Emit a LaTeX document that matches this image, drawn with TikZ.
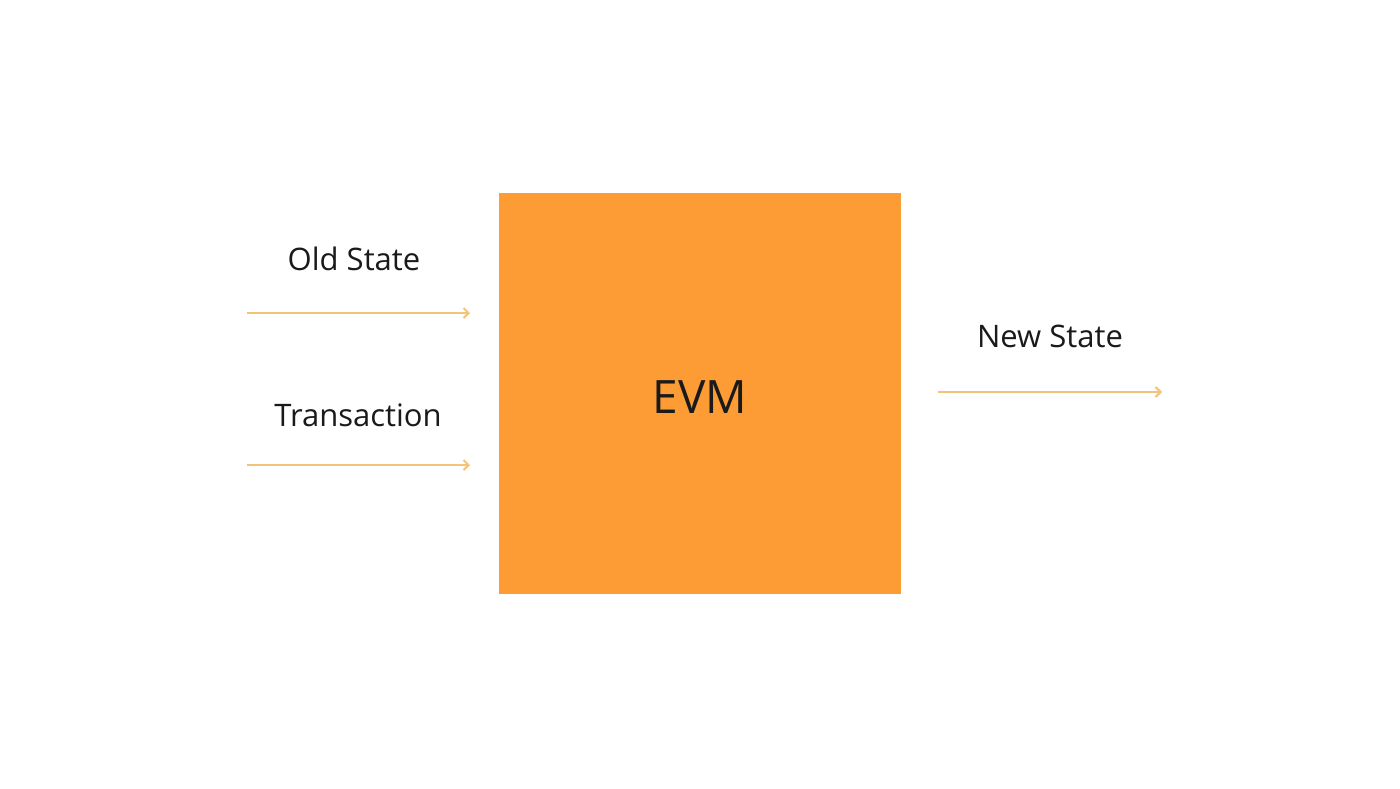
\documentclass[tikz,border=0pt]{standalone}
\usepackage{fontspec}
\setmainfont{Open Sans}
\usetikzlibrary{arrows.meta}
\definecolor{evmorange}{HTML}{FD9B34}
\definecolor{arrowc}{HTML}{F5C27A}
\definecolor{txt}{HTML}{1A1A1A}
\tikzset{
  flow/.style={draw=arrowc, line width=2pt, -{Straight Barb[length=5pt,width=10pt]}},
  lbl/.style={text=txt, font=\fontsize{31}{36}\selectfont, inner sep=0pt, anchor=base},
}
\begin{document}
\begin{tikzpicture}[x=1pt,y=-1pt]
\useasboundingbox (0,0) rectangle (1400,788);
\fill[white] (0,0) rectangle (1400,788);
\node[fill=evmorange, minimum width=402pt, minimum height=401pt, inner sep=0pt, anchor=north west] (evm) at (499,193) {};
\node[text=txt, font=\fontsize{46}{52}\selectfont, inner sep=0pt, anchor=base] (evmt) at (700,413) {EVM};
\coordinate (a1s) at (247,313);
\coordinate (a1e) at (470,313);
\coordinate (a2s) at (247,465);
\coordinate (a2e) at (470,465);
\coordinate (a3s) at (938,392);
\coordinate (a3e) at (1162,392);
\draw[flow] (a1s) -- (a1e);
\draw[flow] (a2s) -- (a2e);
\draw[flow] (a3s) -- (a3e);
\node[lbl] (old) at (354,270) {Old State};
\node[lbl] (tx) at (358,426) {Transaction};
\node[lbl] (new) at (1050,347) {New State};
\end{tikzpicture}
\end{document}
